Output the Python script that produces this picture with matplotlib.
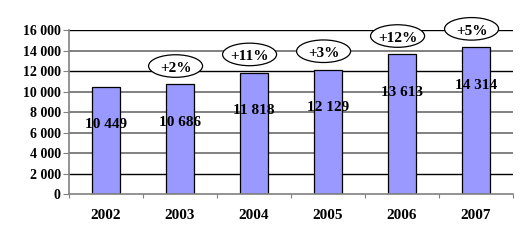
import matplotlib
matplotlib.use('Agg')
import matplotlib.pyplot as plt
from matplotlib.patches import Ellipse

years = ['2002', '2003', '2004', '2005', '2006', '2007']
values = [10449, 10686, 11818, 12129, 13613, 14314]
growth = ['', '+2%', '+11%', '+3%', '+12%', '+5%']
y_ticks = [0, 2000, 4000, 6000, 8000, 10000, 12000, 14000, 16000]

plt.rcParams['font.family'] = ['Liberation Serif', 'DejaVu Serif']
plt.rcParams['font.weight'] = 'bold'


def fmt(v):
    return f"{v:,}".replace(',', ' ')


fig = plt.figure(figsize=(5.28, 2.44), dpi=100)
ax = fig.add_axes([0.1307, 0.2049, 0.8409, 0.6721])

x = list(range(len(years)))

# gridlines, some black some gray like the original
grid_cols = {2000: 'black', 12000: 'black', 16000: 'black'}
for t in y_ticks[1:]:
    ax.axhline(t, color=grid_cols.get(t, '#808080'), lw=1.0 if t in grid_cols else 1.4, zorder=0)

ax.bar(x, values, width=0.39, color='#9999ff', edgecolor='black', linewidth=0.9, zorder=2)

# value labels inside bars
for i, v in enumerate(values):
    ax.text(i, v - 3700, fmt(v), ha='center', va='center', fontsize=11,
            fontweight='bold', zorder=4)

# growth bubbles above bars
for i, (v, g) in enumerate(zip(values, growth)):
    if not g:
        continue
    cx = i - 0.06
    cy = v + 1800
    e = Ellipse((cx, cy), 0.73, 2200, facecolor='white', edgecolor='black',
                lw=0.9, zorder=3, clip_on=False)
    ax.add_patch(e)
    ax.text(cx, cy - 250, g, ha='center', va='center', fontsize=11,
            fontweight='bold', zorder=4, clip_on=False)

ax.set_xlim(-0.5, len(years) - 0.5)
ax.set_ylim(0, 16000)
ax.set_yticks(y_ticks)
ax.set_yticklabels([fmt(t) for t in y_ticks], fontsize=10, fontweight='bold')

# ticks between categories on x axis
ax.set_xticks([i - 0.5 for i in range(len(years) + 1)])
ax.set_xticklabels([])
ax.set_xticks(x, minor=True)
ax.set_xticklabels(years, minor=True, fontsize=11, fontweight='bold')
ax.tick_params(axis='x', which='minor', length=0, pad=11)
ax.tick_params(axis='x', which='major', length=3, color='#808080', direction='out')
ax.tick_params(axis='y', length=4, color='#808080', pad=2)

for s in ['top', 'right']:
    ax.spines[s].set_visible(False)
ax.spines['left'].set_color('#808080')
ax.spines['bottom'].set_color('#808080')
ax.spines['left'].set_linewidth(1.2)
ax.spines['bottom'].set_linewidth(1.2)

fig.savefig('out.png', dpi=100)
